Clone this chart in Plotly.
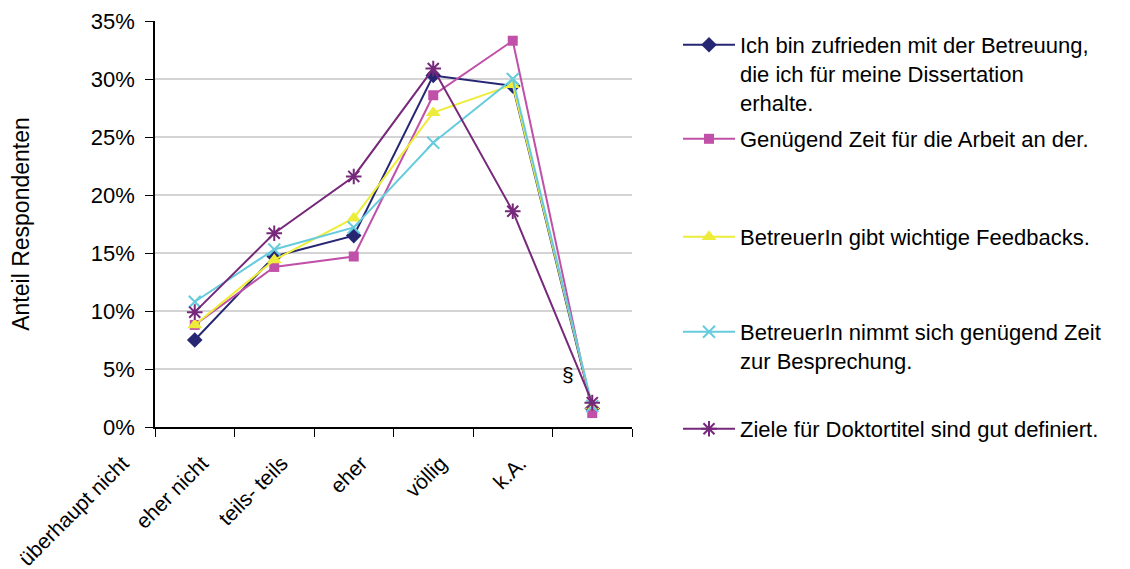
import plotly.graph_objects as go

categories = ["überhaupt nicht", "eher nicht", "teils- teils", "eher", "völlig", "k.A."]

series_names = [
    "Ich bin zufrieden mit der Betreuung,<br>die ich für meine Dissertation<br>erhalte.",
    "Genügend Zeit für die Arbeit an der.",
    "BetreuerIn gibt wichtige Feedbacks.",
    "BetreuerIn nimmt sich genügend Zeit<br>zur Besprechung.",
    "Ziele für Doktortitel sind gut definiert.",
]

zufrieden = [7.5, 14.7, 16.5, 30.3, 29.4, 1.6]
genuegend_zeit = [8.8, 13.8, 14.7, 28.6, 33.3, 1.2]
feedbacks = [8.8, 14.4, 18.0, 27.1, 29.5, 1.8]
besprechung = [10.8, 15.3, 17.2, 24.5, 30.0, 1.8]
ziele = [9.9, 16.7, 21.6, 30.9, 18.6, 2.1]

values = [zufrieden, genuegend_zeit, feedbacks, besprechung, ziele]
colors = ["#262673", "#C050A8", "#EEEC3A", "#66CCDD", "#76287A"]
symbols = ["diamond", "square", "triangle-up", "x-thin-open", "asterisk-open"]
sizes = [12, 10, 13, 12, 13]

# page has an 8px body margin; figure is sized/positioned to compensate
OFF = 8
W, H = 1130 - OFF, 569 - OFF

# legend symbol rows on the page (pixels from top), used only for legend placement
legend_rows = [44, 138, 236, 331, 428]

FONT = "Liberation Sans, Arial, sans-serif"

fig = go.Figure()
for i, (name, vals) in enumerate(zip(series_names, values)):
    lg = "legend" if i == 0 else f"legend{i+1}"
    fig.add_trace(go.Scatter(
        x=categories, y=vals, name=name, mode="lines+markers",
        line=dict(color=colors[i], width=2),
        marker=dict(symbol=symbols[i], size=sizes[i], color=colors[i],
                    line=dict(color=colors[i], width=2 if i >= 3 else 0)),
        legend=lg,
    ))

legend_common = dict(
    xref="container", yref="container", x=(678 - OFF) / W, xanchor="left", yanchor="top",
    font=dict(family=FONT, size=22, color="#000000"), valign="top",
    bgcolor="rgba(0,0,0,0)", borderwidth=0, itemwidth=52,
)
layout_legends = {}
for i, row in enumerate(legend_rows):
    key = "legend" if i == 0 else f"legend{i+1}"
    layout_legends[key] = dict(legend_common, y=1 - (row - OFF - 20) / H)

fig.update_layout(
    width=W, height=H,
    margin=dict(l=155 - OFF, r=1130 - 632, t=21 - OFF, b=569 - 427, autoexpand=False),
    paper_bgcolor="white", plot_bgcolor="white",
    font=dict(family=FONT, size=21, color="#000000"),
    showlegend=True,
    **layout_legends,
)

fig.update_xaxes(
    type="category", range=[-0.5, 5.5], tickson="boundaries",
    ticks="outside", ticklen=8, tickcolor="#000000", tickwidth=1,
    showline=True, linecolor="#000000", linewidth=1.5, showgrid=False,
    tickangle=-45, tickfont=dict(family=FONT, size=21), zeroline=False,
    ticklabelstandoff=14, ticklabelshift=-72, automargin=False,
)
fig.update_yaxes(
    range=[0, 35], dtick=5, ticksuffix="%",
    ticks="outside", ticklen=8, tickcolor="#000000", tickwidth=1,
    showline=True, linecolor="#000000", linewidth=1.5,
    showgrid=True, gridcolor="#D4D4D4", gridwidth=1.5, zeroline=False,
    tickfont=dict(family=FONT, size=22), ticklabelstandoff=6, automargin=False,
    title=dict(text="Anteil Respondenten", font=dict(family=FONT, size=23), standoff=56),
)

fig.add_annotation(x=4.69, y=4.5, xref="x", yref="y", text="§", showarrow=False,
                   font=dict(family=FONT, size=21, color="#000000"))

fig.write_html("out.html")
